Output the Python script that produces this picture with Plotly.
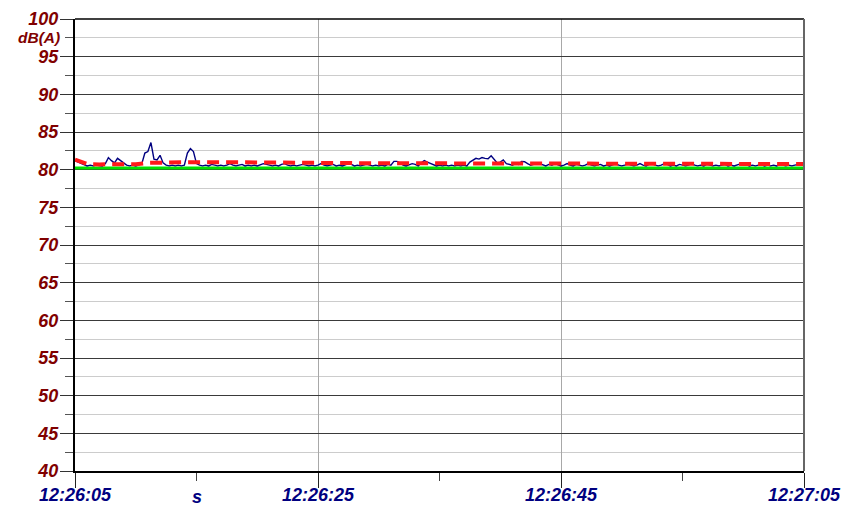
import numpy as np
import plotly.graph_objects as go

# ---- data ----
x_tick_vals = [0, 20, 40, 60]
x_tick_text = ["12:26:05", "12:26:25", "12:26:45", "12:27:05"]
y_tick_vals = [40, 45, 50, 55, 60, 65, 70, 75, 80, 85, 90, 95, 100]
x_unit_label = "s"
y_unit_label = "dB(A)"

# instantaneous level, 0.25 s steps from 12:26:05
blue_db = [
    81.2, 81.0, 80.8, 80.6, 80.5, 80.6, 80.5, 80.6, 80.5, 80.5, 80.8, 81.6, 81.2, 80.9, 81.5, 81.2, 81.0, 80.6, 80.5, 80.6,
    80.5, 80.6, 80.8, 82.2, 82.4, 83.6, 81.4, 81.3, 81.9, 80.9, 80.6, 80.5, 80.6, 80.5, 80.6, 80.5, 80.6, 82.2, 82.8, 82.4,
    80.8, 80.6, 80.5, 80.6, 80.5, 80.7, 80.6, 80.5, 80.6, 80.5, 80.6, 80.8, 80.6, 80.5, 80.6, 80.7, 80.5, 80.6, 80.5, 80.6,
    80.5, 80.6, 80.8, 80.7, 80.6, 80.5, 80.6, 80.5, 80.7, 80.8, 80.6, 80.5, 80.6, 80.5, 80.6, 80.7, 80.6, 80.5, 80.6, 80.5,
    80.6, 80.8, 80.6, 80.5, 80.6, 80.7, 80.5, 80.6, 80.5, 80.6, 80.8, 80.7, 80.5, 80.6, 80.5, 80.6, 80.7, 80.6, 80.5, 80.6,
    80.5, 80.6, 80.5, 80.7, 80.6, 81.1, 81.1, 80.9, 80.6, 80.5, 80.6, 80.8, 80.7, 80.5, 80.9, 81.2, 81.0, 80.8, 80.6, 80.5,
    80.6, 80.5, 80.6, 80.5, 80.6, 80.5, 80.6, 80.5, 80.6, 80.5, 81.0, 81.3, 81.5, 81.4, 81.6, 81.5, 81.45, 81.85, 81.3, 80.9,
    81.0, 81.3, 80.8, 80.7, 80.6, 80.8, 80.7, 81.1, 81.05, 80.8, 80.6, 80.7, 80.9, 80.8, 80.6, 80.5, 80.7, 80.6, 80.8, 80.6,
    80.5, 80.6, 80.8, 80.6, 80.5, 80.7, 80.6, 80.5, 80.6, 80.8, 80.6, 80.5, 80.6, 80.7, 80.5, 80.6, 80.5, 80.7, 80.8, 80.6,
    80.5, 80.6, 80.8, 80.6, 80.5, 80.6, 80.8, 80.6, 80.5, 80.7, 80.8, 80.6, 80.5, 80.6, 80.8, 80.7, 80.5, 80.6, 80.5, 80.7,
    80.6, 80.5, 80.6, 80.8, 80.6, 80.5, 80.6, 80.5, 80.7, 80.6, 80.5, 80.6, 80.5, 80.6, 80.7, 80.5, 80.6, 80.5, 80.6, 80.8,
    80.9, 80.7, 80.5, 80.6, 80.5, 80.6, 80.7, 80.5, 80.6, 80.5, 80.6, 80.5, 80.7, 80.6, 80.5, 80.6, 80.5, 80.6, 80.7, 80.6,
    80.6,
]
blue_t = [i * 0.25 for i in range(len(blue_db))]

# running Leq, 1 s steps
red_db = [
    81.35, 80.75, 80.7, 80.7, 80.72, 80.72, 80.9, 80.95, 80.95, 80.98,
    81.0, 81.0, 80.98, 80.96, 80.94, 80.92, 80.9, 80.9, 80.89, 80.88,
    80.88, 80.87, 80.87, 80.86, 80.86, 80.85, 80.85, 80.85, 80.85, 80.85,
    80.85, 80.85, 80.85, 80.86, 80.87, 80.87, 80.87, 80.86, 80.85, 80.84,
    80.83, 80.82, 80.81, 80.8, 80.8, 80.79, 80.79, 80.78, 80.78, 80.78,
    80.77, 80.77, 80.77, 80.76, 80.76, 80.76, 80.76, 80.75, 80.75, 80.75,
    80.75,
]
red_t = list(range(len(red_db)))

# minimum level
green_t = [0, 60]
green_db = [80.23, 80.23]

# ---- figure ----
fig = go.Figure()
fig.add_trace(go.Scatter(x=green_t, y=green_db, mode="lines",
                         line=dict(color="#00e000", width=3), showlegend=False))
fig.add_trace(go.Scatter(x=blue_t, y=blue_db, mode="lines",
                         line=dict(color="#000080", width=1.4), showlegend=False))
fig.add_trace(go.Scatter(x=red_t, y=red_db, mode="lines",
                         line=dict(color="#ff1a1a", width=4, dash="12px,7px"), showlegend=False))

font_y = dict(family="Liberation Sans, Arial, sans-serif", size=18, color="#800000")
font_x = dict(family="Liberation Sans, Arial, sans-serif", size=18, color="#000080")


def bi(s):
    return "<b><i>" + s + "</i></b>"


fig.update_layout(
    width=842, height=506,
    margin=dict(l=75, r=38, t=19, b=35, autoexpand=False),
    paper_bgcolor="white", plot_bgcolor="white",
    showlegend=False,
    xaxis=dict(
        range=[0, 60], tickmode="array", tickvals=x_tick_vals,
        ticktext=[bi(s) for s in x_tick_text],
        ticks="outside", ticklen=15, tickcolor="#222", tickwidth=1,
        ticklabelstandoff=-9,
        showgrid=True, gridcolor="#a8a8a8", gridwidth=1,
        showline=True, linecolor="black", linewidth=2,
        zeroline=False, tickfont=font_x, automargin=False,
        minor=dict(tickmode="array", tickvals=[10, 30, 50], ticks="outside",
                   ticklen=8, tickcolor="#444", showgrid=False),
    ),
    yaxis=dict(
        range=[40, 100], tickmode="array", tickvals=y_tick_vals,
        ticktext=[bi(str(v)) for v in y_tick_vals],
        ticks="outside", ticklen=13, tickcolor="#333", tickwidth=1,
        ticklabelstandoff=-2,
        showgrid=True, gridcolor="#3a3a3a", gridwidth=1,
        showline=True, linecolor="black", linewidth=2,
        zeroline=False, tickfont=font_y, automargin=False,
        minor=dict(tick0=40, dtick=2.5, ticks="outside", ticklen=8, tickcolor="#555",
                   showgrid=True, gridcolor="#cccccc", gridwidth=1),
    ),
    shapes=[
        dict(type="line", xref="paper", yref="paper", x0=0, x1=1, y0=1, y1=1,
             line=dict(color="black", width=1.5)),
        dict(type="line", xref="paper", yref="paper", x0=1, x1=1, y0=0, y1=1,
             line=dict(color="#666666", width=2)),
    ],
    annotations=[
        dict(text=bi(y_unit_label), xref="paper", yref="y", x=0, y=97.54,
             xanchor="right", yanchor="middle", xshift=-13, showarrow=False,
             font=dict(font_y, size=15.5)),
        dict(text=bi(x_unit_label), xref="x", yref="paper", x=10, y=0,
             xanchor="center", yanchor="middle", yshift=-26, showarrow=False, font=font_x),
    ],
)

fig.write_html("out.html",
               config={"displayModeBar": False},
               post_script="document.body.style.margin='0';document.body.style.overflow='hidden';")
